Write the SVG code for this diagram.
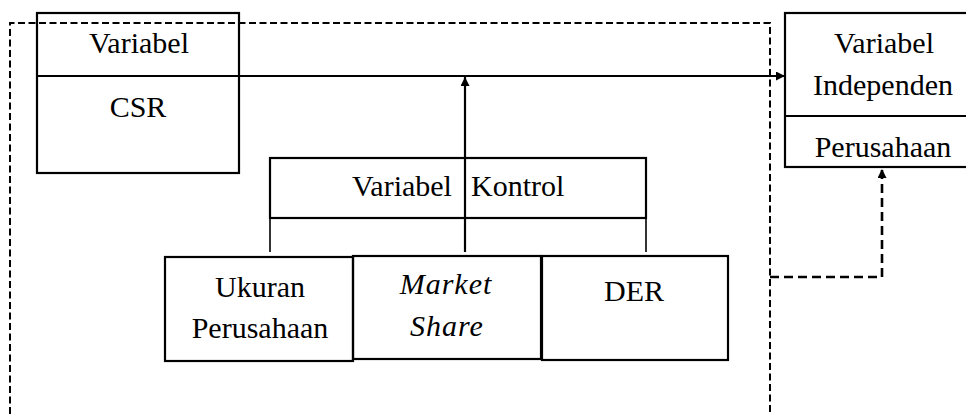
<svg xmlns="http://www.w3.org/2000/svg" width="966" height="414" viewBox="0 0 966 414">
  <style>
    .box { fill: none; stroke: #000; stroke-width: 2.2; }
    .lbl { font-family: "Liberation Serif", "Times New Roman", serif; font-size: 30px; fill: #000; text-anchor: middle; }
    .ital { font-style: italic; letter-spacing: 1px; }
    .line { fill: none; stroke: #000; stroke-width: 2.2; }
    .leg { fill: none; stroke: #000; stroke-width: 1.6; }
    .dash { fill: none; stroke: #000; stroke-width: 2; stroke-dasharray: 7 3.5; }
    .dash2 { fill: none; stroke: #000; stroke-width: 2.6; stroke-dasharray: 9 5; }
  </style>
  <defs>
    <marker id="head" viewBox="0 0 10 10" refX="10" refY="5" markerWidth="10" markerHeight="9" markerUnits="userSpaceOnUse" orient="auto">
      <path d="M0,0 L10,5 L0,10 Z" fill="#000"/>
    </marker>
  </defs>

  <rect width="966" height="414" fill="#fff"/>

  <!-- dependent variable -->
  <g id="node-csr">
    <rect class="box" x="37" y="13" width="202" height="160"/>
    <line class="line" x1="37" y1="76" x2="239" y2="76"/>
    <text class="lbl" x="139" y="53">Variabel</text>
    <text class="lbl" x="138" y="117">CSR</text>
  </g>

  <!-- independent variable -->
  <g id="node-independen">
    <rect class="box" x="785" y="13" width="190" height="154"/>
    <line class="line" x1="785" y1="116" x2="975" y2="116"/>
    <text class="lbl" x="884" y="53">Variabel</text>
    <text class="lbl" x="883" y="95">Independen</text>
    <text class="lbl" x="883" y="157">Perusahaan</text>
  </g>

  <!-- control variables -->
  <g id="node-kontrol">
    <rect class="box" x="270" y="158" width="376" height="60"/>
    <text class="lbl" x="352" y="196" style="text-anchor:start">Variabel<tspan x="471">Kontrol</tspan></text>
  </g>

  <g id="node-ukuran">
    <rect class="box" x="165" y="257" width="188" height="104"/>
    <text class="lbl" x="260" y="297">Ukuran</text>
    <text class="lbl" x="260" y="338">Perusahaan</text>
  </g>

  <g id="node-market">
    <rect class="box" x="353" y="256" width="188" height="103"/>
    <text class="lbl ital" x="446" y="294">Market</text>
    <text class="lbl ital" x="447" y="336">Share</text>
  </g>

  <g id="node-der">
    <rect class="box" x="542" y="256" width="186" height="104"/>
    <text class="lbl" x="634" y="301">DER</text>
  </g>

  <g id="connectors">
    <!-- dashed frame -->
    <path class="dash" d="M10,414 L10,23 L770,23 L770,414"/>
    <!-- dashed link to the lower edge of the independent box -->
    <path class="dash2" d="M770,277 L882,277 L882,169" marker-end="url(#head)"/>
    <!-- main relation -->
    <line class="line" x1="239" y1="76" x2="785" y2="76" marker-end="url(#head)"/>
    <!-- control effect -->
    <line class="line" x1="465" y1="252" x2="465" y2="77" marker-end="url(#head)"/>
    <!-- legs from control box -->
    <line class="leg" x1="270" y1="218" x2="270" y2="252"/>
    <line class="leg" x1="646" y1="218" x2="646" y2="252"/>
  </g>
</svg>
